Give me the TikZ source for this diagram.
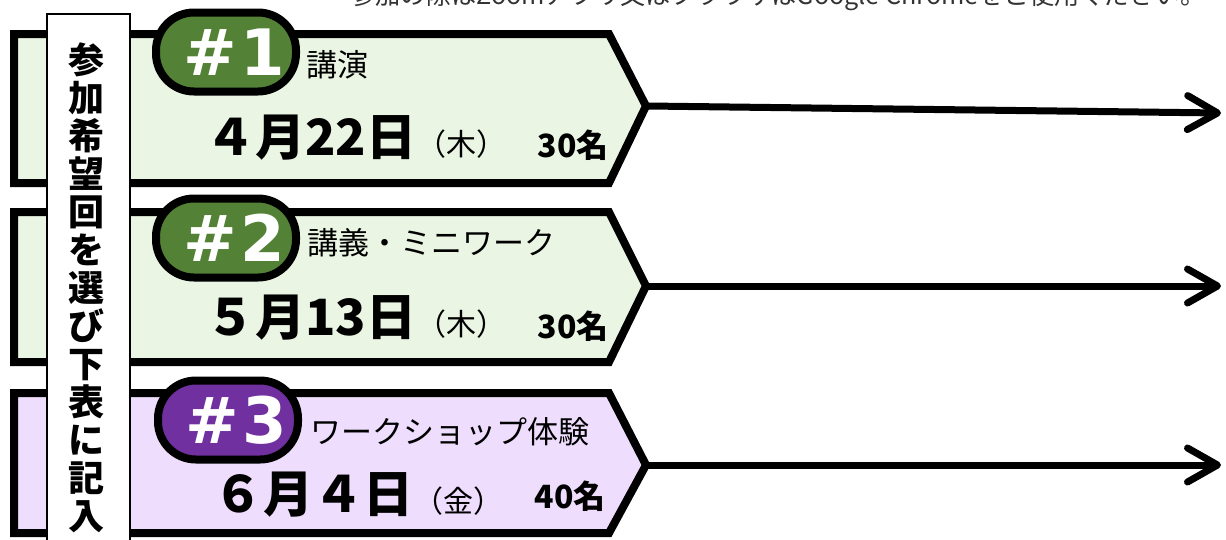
\documentclass[tikz,border=0pt]{standalone}
\usepackage{fontspec}
\setmainfont{Noto Sans CJK JP}
\newfontfamily\badgefont{DejaVu Sans}
\usetikzlibrary{arrows.meta}
\definecolor{rowgreen}{HTML}{EAF6E3}
\definecolor{rowpurple}{HTML}{EFDDFD}
\definecolor{badgegreen}{HTML}{538135}
\definecolor{badgepurple}{HTML}{7030A0}
\tikzset{
  rowbox/.style={draw=black, line width=8pt, line join=miter},
  badge/.style={draw=black, line width=8pt, rounded corners=38pt, minimum width=140pt, minimum height=79pt, inner sep=0pt},
  badgetxt/.style={inner sep=0pt, text=white, font=\badgefont\fontsize{64}{64}\selectfont\bfseries},
  title/.style={anchor=west, inner sep=0pt, font=\fontsize{31}{31}\selectfont},
  datetxt/.style={anchor=base west, inner sep=0pt},
  captxt/.style={anchor=base east, inner sep=0pt, font=\fontsize{32}{32}\selectfont\bfseries},
  conn/.style={line width=7pt, line cap=round, -{Straight Barb[length=30pt 0 0, width=34pt 0 0, round]}},
}
\newcommand{\datefont}{\fontsize{50}{50}\selectfont\bfseries}
\newcommand{\dayfont}{\fontsize{30}{30}\selectfont}
\begin{document}
\begin{tikzpicture}[x=1pt,y=-1pt]
\useasboundingbox (0,0) rectangle (1226,539);
\clip (0,0) rectangle (1226,539);
% top note (cut off in the reference)
\node[anchor=base, inner sep=0pt, text=black!80] (note) at (778,4) {\resizebox{855pt}{!}{\fontsize{24}{24}\selectfont 参加の際はZoomアプリ又はブラウザはGoogle Chromeをご使用ください。}};
% rows
\draw[rowbox, fill=rowgreen] (14,34) -- (609,34) -- (646,106) -- (609,183) -- (14,183) -- cycle;
\draw[rowbox, fill=rowgreen] (14,212) -- (609,212) -- (646,286) -- (609,362) -- (14,362) -- cycle;
\draw[rowbox, fill=rowpurple] (14,393) -- (609,393) -- (646,465) -- (609,533) -- (14,533) -- cycle;
\coordinate (t1) at (648,106);
\coordinate (t2) at (648,286);
\coordinate (t3) at (648,465);
\coordinate (e1) at (1221,113);
\coordinate (e2) at (1221,286);
\coordinate (e3) at (1221,465);
\draw[conn] (t1) -- (e1);
\draw[conn] (t2) -- (e2);
\draw[conn] (t3) -- (e3);
% label box
\node[draw=black, line width=1.5pt, fill=white, anchor=north, minimum width=83pt, minimum height=560pt, inner sep=0pt] (labelbox) at (88.5,13) {};
\node[inner sep=0pt, align=center, font=\fontsize{36}{38}\selectfont\bfseries] (label) at (86,288) {参\\加\\希\\望\\回\\を\\選\\び\\下\\表\\に\\記\\入};
% badges
\node[badge, fill=badgegreen] (b1) at (226,52) {};
\node[badge, fill=badgegreen] (b2) at (226,238) {};
\node[badge, fill=badgepurple] (b3) at (228,420) {};
\node[badgetxt] (n1) at ([xshift=8pt]b1.center) {\#\hspace{3pt}1};
\node[badgetxt] (n2) at ([xshift=8pt]b2.center) {\#\hspace{3pt}2};
\node[badgetxt] (n3) at ([xshift=8pt]b3.center) {\#\hspace{3pt}3};
% titles
\node[title] (s1) at (306,65) {講演};
\node[title] (s2) at (307,243) {講義・ミニワーク};
\node[title] (s3) at (310,432) {ワークショップ体験};
% dates
\node[datetxt] (d1) at (205,155) {{\datefont ４月22日}{\dayfont（木）}};
\node[datetxt] (d2) at (205,335) {{\datefont ５月13日}{\dayfont（木）}};
\node[datetxt] (d3) at (213,512) {{\datefont ６月４日}{\dayfont（金）}};
% capacity
\node[captxt] (c1) at (609,157) {30名};
\node[captxt] (c2) at (609,338) {30名};
\node[captxt] (c3) at (606,508) {40名};
\end{tikzpicture}
\end{document}
